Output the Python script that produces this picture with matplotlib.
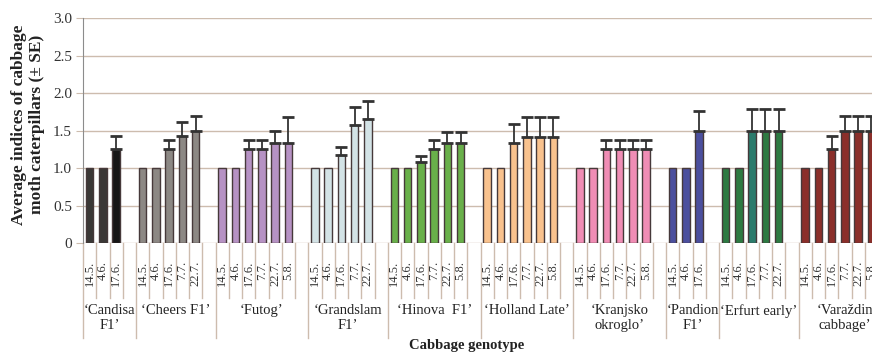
import numpy as np
import matplotlib.pyplot as plt

# --- data ---
genotypes = ['‘Candisa\nF1’', '‘Cheers F1’', '‘Futog’', '‘Grandslam\nF1’', '‘Hinova  F1’',
             '‘Holland Late’', '‘Kranjsko\nokroglo’', '‘Pandion\nF1’', '‘Erfurt early’',
             '‘Varaždin\ncabbage’']

dates_candisa = ['14.5.', '4.6.', '17.6.']
dates_cheers = ['14.5.', '4.6.', '17.6.', '7.7.', '22.7.']
dates_futog = ['14.5.', '4.6.', '17.6.', '7.7.', '22.7.', '5.8.']
dates_grandslam = ['14.5.', '4.6.', '17.6.', '7.7.', '22.7.']
dates_hinova = ['14.5.', '4.6.', '17.6.', '7.7.', '22.7.', '5.8.']
dates_holland = ['14.5.', '4.6.', '17.6.', '7.7.', '22.7.', '5.8.']
dates_kranjsko = ['14.5.', '4.6.', '17.6.', '7.7.', '22.7.', '5.8.']
dates_pandion = ['14.5.', '4.6.', '17.6.']
dates_erfurt = ['14.5.', '4.6.', '17.6.', '7.7.', '22.7.']
dates_varazdin = ['14.5.', '4.6.', '17.6.', '7.7.', '22.7.', '5.8.']

mean_candisa = [1.0, 1.0, 1.26]
mean_cheers = [1.0, 1.0, 1.25, 1.43, 1.5]
mean_futog = [1.0, 1.0, 1.25, 1.25, 1.34, 1.34]
mean_grandslam = [1.0, 1.0, 1.17, 1.58, 1.66]
mean_hinova = [1.0, 1.0, 1.08, 1.25, 1.33, 1.33]
mean_holland = [1.0, 1.0, 1.33, 1.42, 1.42, 1.42]
mean_kranjsko = [1.0, 1.0, 1.25, 1.25, 1.25, 1.25]
mean_pandion = [1.0, 1.0, 1.5]
mean_erfurt = [1.0, 1.0, 1.5, 1.5, 1.5]
mean_varazdin = [1.0, 1.0, 1.25, 1.5, 1.5, 1.5]

se_candisa = [0, 0, 0.17]
se_cheers = [0, 0, 0.13, 0.18, 0.2]
se_futog = [0, 0, 0.13, 0.13, 0.15, 0.34]
se_grandslam = [0, 0, 0.11, 0.23, 0.23]
se_hinova = [0, 0, 0.08, 0.13, 0.15, 0.15]
se_holland = [0, 0, 0.26, 0.26, 0.26, 0.26]
se_kranjsko = [0, 0, 0.13, 0.13, 0.13, 0.13]
se_pandion = [0, 0, 0.26]
se_erfurt = [0, 0, 0.29, 0.29, 0.29]
se_varazdin = [0, 0, 0.18, 0.19, 0.19, 0.19]

colors_candisa = ['#3a3836', '#3a3836', '#161616']
colors_cheers = ['#8c8884'] * 5
colors_futog = ['#b692c4'] * 6
colors_grandslam = ['#d3e3e6'] * 5
colors_hinova = ['#69b04a'] * 6
colors_holland = ['#f9c28e'] * 6
colors_kranjsko = ['#f08db5'] * 6
colors_pandion = ['#4b4f9e'] * 3
colors_erfurt = ['#2d7a42', '#2d7a42', '#2b7b6c', '#2d7a42', '#2d7a42']
colors_varazdin = ['#8b2f2a'] * 6

all_dates = [dates_candisa, dates_cheers, dates_futog, dates_grandslam, dates_hinova,
             dates_holland, dates_kranjsko, dates_pandion, dates_erfurt, dates_varazdin]
all_means = [mean_candisa, mean_cheers, mean_futog, mean_grandslam, mean_hinova,
             mean_holland, mean_kranjsko, mean_pandion, mean_erfurt, mean_varazdin]
all_se = [se_candisa, se_cheers, se_futog, se_grandslam, se_hinova,
          se_holland, se_kranjsko, se_pandion, se_erfurt, se_varazdin]
all_colors = [colors_candisa, colors_cheers, colors_futog, colors_grandslam, colors_hinova,
              colors_holland, colors_kranjsko, colors_pandion, colors_erfurt, colors_varazdin]

plt.rcParams['font.family'] = ['Liberation Serif', 'DejaVu Serif']

GRID = '#cdbcae'
W, H = 872, 354

fig = plt.figure(figsize=(W / 100, H / 100), dpi=100)
# axes deliberately runs past the right edge (reference is cropped there)
ax_left, ax_bottom_px, ax_top_px, slot_px = 83, 243, 18.3, 13.25
n_slots = sum(len(d) + 1 for d in all_dates)
ax = fig.add_axes([ax_left / W, (H - ax_bottom_px) / H,
                   n_slots * slot_px / W, (ax_bottom_px - ax_top_px) / H])
ax_h_px = ax_bottom_px - ax_top_px
trans = ax.get_xaxis_transform()

pos = 0
starts = []
for g, dates in enumerate(all_dates):
    starts.append(pos)
    x = np.arange(pos, pos + len(dates))
    ax.bar(x, all_means[g], width=0.58, color=all_colors[g], edgecolor='#46393a',
           linewidth=1.0, zorder=3)
    se = np.array(all_se[g])
    m = se > 0
    ax.errorbar(x[m], np.array(all_means[g])[m], yerr=[np.zeros(m.sum()), se[m]],
                fmt='none', ecolor='#333333', elinewidth=1.3, capsize=4.5, capthick=2.0,
                zorder=4)
    for xi, d in zip(x, dates):
        ax.text(xi, -18 / ax_h_px, d, transform=trans, rotation=90,
                ha='center', va='top', fontsize=9, color='#333333', clip_on=False)
    pos += len(dates) + 1
starts.append(pos)

# separator lines of the two-level category axis
for k in range(n_slots + 1):
    b = k - 0.5
    depth = -95 / ax_h_px if k in starts else -55 / ax_h_px
    ax.plot([b, b], [0, depth], transform=trans, color=GRID, lw=1.0, clip_on=False)

for g, name in enumerate(genotypes):
    xc = (starts[g] - 0.5 + starts[g + 1] - 0.5) / 2
    ax.text(xc, -61 / ax_h_px, name, transform=trans, ha='center', va='top',
            fontsize=10.5, color='#222222', linespacing=1.2, clip_on=False)

ax.set_xlim(-0.5, n_slots - 0.5)
ax.set_ylim(0, 3.0)
ax.set_yticks(np.arange(0, 3.01, 0.5))
ax.set_yticklabels(['0'] + [f'{v:.1f}' for v in np.arange(0.5, 3.01, 0.5)])
ax.set_xticks([])
ax.tick_params(axis='y', length=5, color=GRID, labelsize=11, labelcolor='#333333', pad=3)
ax.grid(axis='y', color=GRID, lw=1.0, zorder=0)
ax.set_axisbelow(True)
for s in ['top', 'right', 'bottom']:
    ax.spines[s].set_visible(False)
ax.spines['left'].set_color('#8c8c8c')

fig.text(28 / W, 1 - 124.5 / H, 'Average indices of cabbage\nmoth caterpillars (± SE)',
         rotation=90, ha='center', va='center', fontsize=12.5, fontweight='bold',
         color='#222222', linespacing=1.1, multialignment='center')
fig.text(467 / W, 1 - 346 / H, 'Cabbage genotype', ha='center', va='center',
         fontsize=10.5, fontweight='bold', color='#222222')

fig.savefig('out.png', dpi=100)
